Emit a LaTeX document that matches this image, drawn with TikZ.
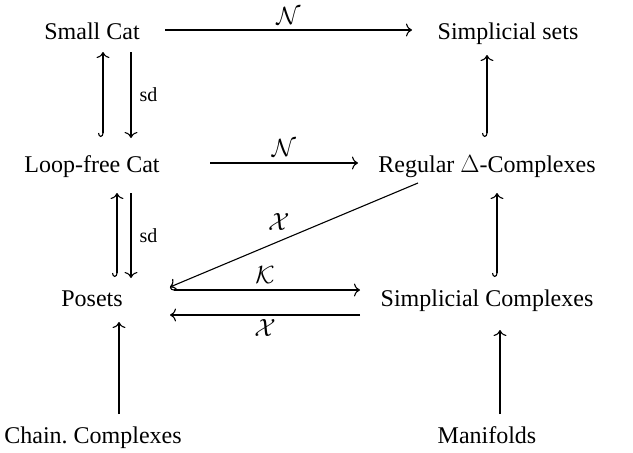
\documentclass[tikz,border=0pt]{standalone}
\usepackage{fontspec}
\setmainfont{Liberation Serif}
\usetikzlibrary{arrows.meta,calc}
\begin{document}
\frenchspacing
\begin{tikzpicture}[x=1pt,y=-1pt,line width=1.1pt,
  obj/.style={inner sep=0pt,anchor=base,font=\fontsize{24}{28}\selectfont},
  lab/.style={inner sep=3pt,font=\fontsize{24.5}{29}\selectfont},
  sdlab/.style={inner sep=0pt,font=\fontsize{20}{24}\selectfont},
  ar/.style={-{Computer Modern Rightarrow[length=6pt,width=13pt]}},
  har/.style={{Hooks[right,length=4pt,width=10pt]}-{Computer Modern Rightarrow[length=6pt,width=13pt]}}]
\useasboundingbox (0,0) rectangle (633,453);
\node[obj] (small) at (92,39) {Small Cat};
\node[obj] (sset) at (508,39) {Simplicial sets};
\node[obj] (loop) at (92,172) {Loop-free Cat};
\node[obj] (reg) at (487,172) {Regular $\Delta$-Complexes};
\node[obj] (pos) at (92,306) {Posets};
\node[obj] (sc) at (487,306) {Simplicial Complexes};
\node[obj] (chain) at (93,443) {Chain. Complexes};
\node[obj] (man) at (487,443) {Manifolds};
% horizontal
\draw[ar] ($(small.base)+(73,-9)$) -- node[lab,above=2pt]{$\mathcal{N}$} ($(sset.base)+(-96,-9)$);
\draw[ar] ($(loop.base)+(118,-9)$) -- node[lab,above=3pt]{$\mathcal{N}$} ($(reg.base)+(-129,-9)$);
% left verticals
\draw[har] ($(loop.base)+(11,-35)$) -- ($(small.base)+(11,13)$);
\draw[ar] ($(small.base)+(39,13)$) -- node[sdlab,right=8pt]{$\mathrm{sd}$} ($(loop.base)+(39,-34)$);
\draw[har] ($(pos.base)+(25,-29)$) -- ($(loop.base)+(25,21)$);
\draw[ar] ($(loop.base)+(39,21)$) -- node[sdlab,right=8pt]{$\mathrm{sd}$} ($(pos.base)+(39,-28)$);
\draw[ar] ($(chain.base)+(26,-29)$) -- ($(pos.base)+(27,16)$);
% right verticals
\draw[har] ($(reg.base)+(0,-35)$) -- ($(sset.base)+(-21,16)$);
\draw[har] ($(sc.base)+(10,-29)$) -- ($(reg.base)+(10,21)$);
\draw[ar] ($(man.base)+(13,-29)$) -- ($(sc.base)+(13,24)$);
% diagonal and posets/simplicial complexes
\draw[ar] ($(reg.base)+(-69,11)$) -- node[lab,anchor=south east,pos=0.5,inner sep=4pt]{$\mathcal{X}$} ($(pos.base)+(78,-19)$);
\draw[har] ($(pos.base)+(78,-16)$) -- node[lab,above=3pt]{$\mathcal{K}$} ($(sc.base)+(-127,-16)$);
\draw[ar] ($(sc.base)+(-127,9)$) -- node[lab,below=1pt]{$\mathcal{X}$} ($(pos.base)+(78,9)$);
\end{tikzpicture}
\end{document}
